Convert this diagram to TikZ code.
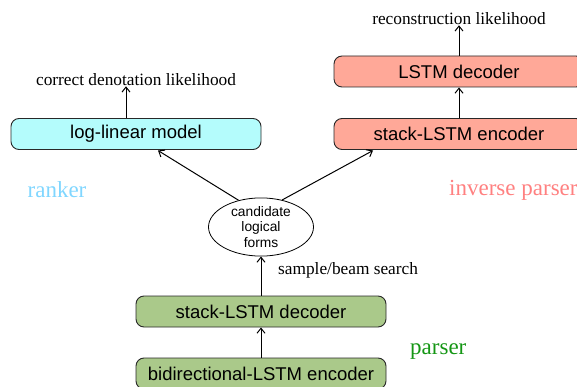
\documentclass[tikz,border=0pt]{standalone}
\usepackage{fontspec}
\setmainfont{Liberation Serif}
\setsansfont{Liberation Sans}
\usetikzlibrary{arrows.meta,shapes.geometric}
\definecolor{cyanfill}{RGB}{180,252,252}
\definecolor{salmonfill}{RGB}{255,168,152}
\definecolor{greenfill}{RGB}{170,201,138}
\definecolor{rankercol}{RGB}{128,214,255}
\definecolor{invcol}{RGB}{255,128,128}
\definecolor{parsercol}{RGB}{20,150,20}
\definecolor{edgecol}{RGB}{40,40,40}
\tikzset{
  box/.style={draw=edgecol, line width=0.9pt, rounded corners=8pt, minimum width=250pt, minimum height=31pt, inner sep=0pt, font=\sffamily\fontsize{18.5}{22}\selectfont},
  lbl/.style={font=\fontsize{17.3}{20}\selectfont, inner sep=0pt},
  grp/.style={font=\fontsize{23}{26}\selectfont, inner sep=0pt},
  arr/.style={->, line width=1pt, >={Straight Barb[length=5pt,width=8pt]}},
}
\begin{document}
\begin{tikzpicture}[x=1pt,y=-1pt]
\useasboundingbox (0,0) rectangle (577,387);
\node[box, fill=cyanfill] (ll) at (136,134) {log-linear model};
\node[box, fill=salmonfill] (dec) at (459,71.5) {LSTM decoder};
\node[box, fill=salmonfill] (enc) at (459,134) {stack-LSTM encoder};
\node[box, fill=greenfill] (sdec) at (261,311.5) {stack-LSTM decoder};
\node[box, fill=greenfill] (benc) at (261,373.5) {bidirectional-LSTM encoder};
\node[ellipse, draw=black, line width=0.8pt, minimum width=105pt, minimum height=52pt, inner sep=0pt, align=center, font=\sffamily\fontsize{13.8}{15.5}\selectfont] (cand) at (261,227) {candidate\\logical\\forms};
\node[lbl] (cdl) at (136,80) {correct denotation likelihood};
\node[lbl] (rl) at (459,19) {reconstruction likelihood};
\node[lbl, anchor=west] (sbs) at (278,270) {sample/beam search};
\node[grp, text=rankercol] (rk) at (57,190) {ranker};
\node[grp, text=invcol, anchor=west] (ip) at (449,190) {inverse parser};
\node[grp, text=parsercol, anchor=west] (ps) at (410,352) {parser};
\draw[arr] ([xshift=-10pt]ll.north) -- ([xshift=-10pt]ll.north |- cdl.south);
\draw[arr] (dec.north) -- (rl.south);
\draw[arr] (enc.north) -- (dec.south);
\draw[arr] (benc.north) -- (sdec.south);
\draw[arr] (sdec.north) -- (cand.south);
\draw[arr] (cand.130) -- (158,150.5);
\draw[arr] (cand.52) -- (373,150.5);
\end{tikzpicture}
\end{document}
